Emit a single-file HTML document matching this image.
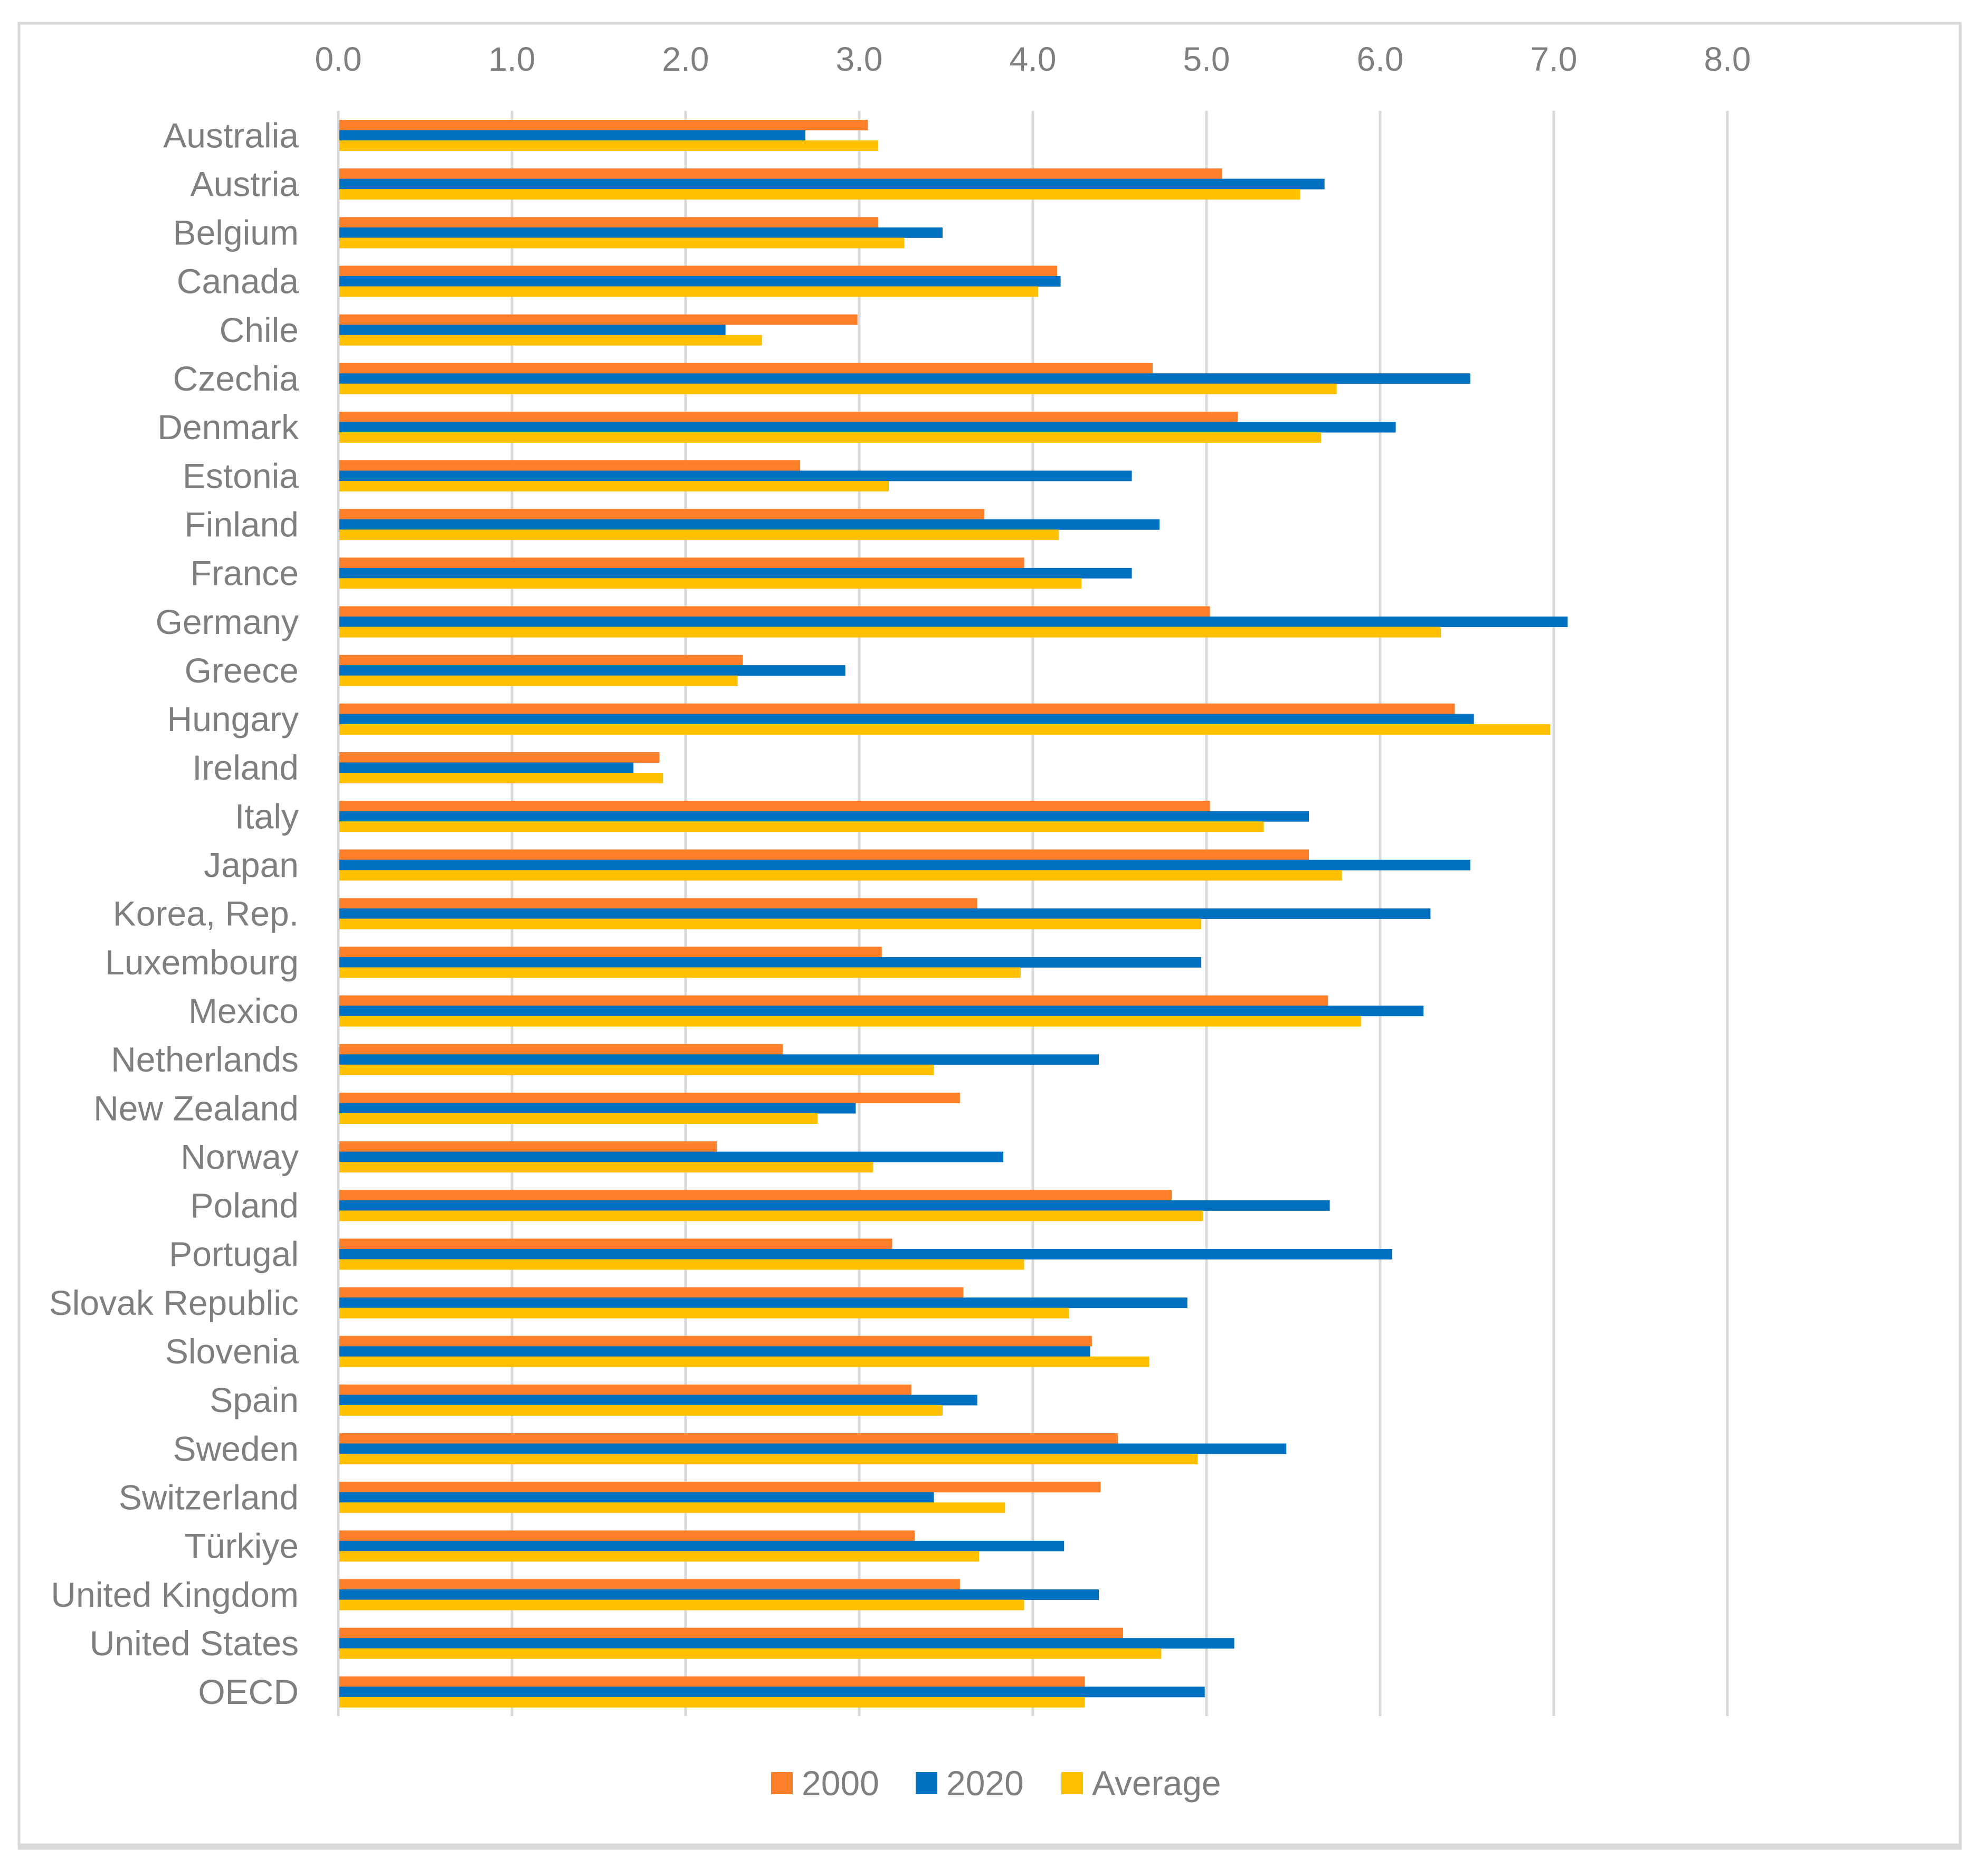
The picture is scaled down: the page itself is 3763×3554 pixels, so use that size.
<!DOCTYPE html>
<html><head><meta charset="utf-8"><style>
html,body{margin:0;padding:0;background:#fff}
svg text{font-family:"Liberation Sans",sans-serif;fill:#7f7f7f}
</style></head><body>
<svg id="chart" width="3763" height="3549" viewBox="0 0 3763 3549" xmlns="http://www.w3.org/2000/svg">
<rect x="34" y="46" width="3683" height="3458" fill="#d9d9d9"/>
<rect x="36" y="44" width="3678" height="3451" fill="#fff" stroke="#d9d9d9" stroke-width="5"/>
<g id="grid"></g>
<g id="xticks"></g>
<g id="bars"></g>
<g id="ylabels"></g>
<g id="legend"></g>
</svg>
<script>
const categories=["Australia","Austria","Belgium","Canada","Chile","Czechia","Denmark","Estonia","Finland","France","Germany","Greece","Hungary","Ireland","Italy","Japan","Korea, Rep.","Luxembourg","Mexico","Netherlands","New Zealand","Norway","Poland","Portugal","Slovak Republic","Slovenia","Spain","Sweden","Switzerland","Türkiye","United Kingdom","United States","OECD"];
const values2000=[3.05,5.09,3.11,4.14,2.99,4.69,5.18,2.66,3.72,3.95,5.02,2.33,6.43,1.85,5.02,5.59,3.68,3.13,5.70,2.56,3.58,2.18,4.80,3.19,3.60,4.34,3.30,4.49,4.39,3.32,3.58,4.52,4.30];
const values2020=[2.69,5.68,3.48,4.16,2.23,6.52,6.09,4.57,4.73,4.57,7.08,2.92,6.54,1.70,5.59,6.52,6.29,4.97,6.25,4.38,2.98,3.83,5.71,6.07,4.89,4.33,3.68,5.46,3.43,4.18,4.38,5.16,4.99];
const valuesAvg=[3.11,5.54,3.26,4.03,2.44,5.75,5.66,3.17,4.15,4.28,6.35,2.30,6.98,1.87,5.33,5.78,4.97,3.93,5.89,3.43,2.76,3.08,4.98,3.95,4.21,4.67,3.48,4.95,3.84,3.69,3.95,4.74,4.30];
const tickValues=[0,1,2,3,4,5,6,7,8];
const tickLabels=["0.0","1.0","2.0","3.0","4.0","5.0","6.0","7.0","8.0"];
const seriesNames=["2000","2020","Average"];

const NS="http://www.w3.org/2000/svg";
const X0=641,UNIT=329,TOP=210,BOTTOM=3251;
const band=(BOTTOM-TOP)/categories.length;
const barH=19.5;
const colors=["#fe7f2a","#0070c0","#ffc000"];
function x(v){return X0+v*UNIT;}
function yBand(i){return TOP+i*band;}
function mk(tag,attrs,parent){const e=document.createElementNS(NS,tag);for(const k in attrs)e.setAttribute(k,attrs[k]);parent.appendChild(e);return e;}

const grid=document.getElementById('grid'),xt=document.getElementById('xticks');
tickValues.forEach((t,i)=>{
  const l=mk('line',{x1:x(t),x2:x(t),y1:TOP,y2:BOTTOM,stroke:'#d9d9d9','stroke-width':5},grid);
  
  
  const tx=mk('text',{x:x(t),y:134,'font-size':64,'text-anchor':'middle'},xt);
  
  
  tx.textContent=tickLabels[i];
});
const bars=document.getElementById('bars'),yl=document.getElementById('ylabels');
const series=[values2000,values2020,valuesAvg];
categories.forEach((c,i)=>{
  const y0=yBand(i)+17;
  series.forEach((s,j)=>{
    const r=mk('rect',{x:x(0)+2,y:y0+j*barH,width:Math.max(0,x(s[i])-x(0)-2),height:barH+0.5,fill:colors[j]},bars);
    
    
  });
  const t=mk('text',{x:566,y:y0+barH*1.5+23,'font-size':66,'text-anchor':'end'},yl);
  
  
  t.textContent=c;
});
const lg=document.getElementById('legend');
const lgX=[1461,1735,2011];
seriesNames.forEach((n,j)=>{
  const r=mk('rect',{x:lgX[j],y:3357,width:41,height:42,fill:colors[j]},lg);
  
  
  const t=mk('text',{x:lgX[j]+58,y:3401,'font-size':66},lg);
  
  
  t.textContent=n;
});
</script>
</body></html>
